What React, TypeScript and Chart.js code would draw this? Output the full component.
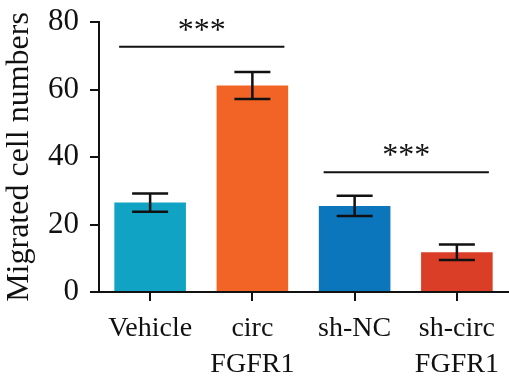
import React, { useEffect, useRef } from "react";
import { Chart, registerables } from "chart.js";

Chart.register(...registerables);

const categories: (string | string[])[] = ["Vehicle", ["circ", "FGFR1"], "sh-NC", ["sh-circ", "FGFR1"]];
const values = [26.5, 61.2, 25.5, 11.8];
const errors = [2.7, 4.0, 3.0, 2.3];
const barColors = ["#10A3C4", "#F26425", "#0B76BC", "#DA3E27"];
const yTicks = [0, 20, 40, 60, 80];
const sigPairs = [[0, 1], [2, 3]];
const sigLevels = [72.7, 35.5];
const sigLabels = ["***", "***"];

const FONT = "'Liberation Serif', 'DejaVu Serif', serif";

const errorBarPlugin = {
  id: "errorBars",
  afterDatasetsDraw(chart: any) {
    const { ctx, scales } = chart;
    const xs = scales.x, ys = scales.y;
    ctx.save();
    ctx.strokeStyle = "#111";
    ctx.lineWidth = 2.5;
    values.forEach((v, i) => {
      const x = xs.getPixelForValue(i);
      const yt = ys.getPixelForValue(v + errors[i]);
      const yb = ys.getPixelForValue(v - errors[i]);
      const hw = 18;
      ctx.beginPath();
      ctx.moveTo(x, yt); ctx.lineTo(x, yb);
      ctx.moveTo(x - hw, yt); ctx.lineTo(x + hw, yt);
      ctx.moveTo(x - hw, yb); ctx.lineTo(x + hw, yb);
      ctx.stroke();
    });
    sigPairs.forEach((p, k) => {
      const x1 = xs.getPixelForValue(p[0]) - 31;
      const x2 = xs.getPixelForValue(p[1]) + 32;
      const y = ys.getPixelForValue(sigLevels[k]);
      ctx.lineWidth = 2;
      ctx.beginPath();
      ctx.moveTo(x1, y); ctx.lineTo(x2, y);
      ctx.stroke();
      ctx.fillStyle = "#111";
      ctx.font = `32px ${FONT}`;
      ctx.textAlign = "center";
      ctx.textBaseline = "alphabetic";
      ctx.fillText(sigLabels[k], (x1 + x2) / 2, y - 7);
    });
    ctx.restore();
  },
};

export default function App() {
  const ref = useRef<HTMLCanvasElement>(null);
  useEffect(() => {
    document.body.style.margin = "0";
    const chart = new Chart(ref.current!, {
      type: "bar",
      data: {
        labels: categories,
        datasets: [
          {
            data: values,
            backgroundColor: barColors,
            borderWidth: 0,
            barPercentage: 0.7,
            categoryPercentage: 1,
          },
        ],
      },
      options: {
        animation: false,
        responsive: false,
        layout: { padding: { top: 22, right: 1, left: 0, bottom: 0 } },
        plugins: { legend: { display: false }, tooltip: { enabled: false } },
        scales: {
          x: {
            grid: { display: true, offset: false, drawOnChartArea: false, drawTicks: true, tickLength: 9, color: "#111", lineWidth: 2 },
            border: { display: true, color: "#111", width: 2 },
            ticks: { color: "#111", font: { family: FONT, size: 28, lineHeight: 1.3 }, padding: 9 },
            afterFit: (s: any) => { s.height = 91; s.paddingLeft = 0; s.paddingRight = 0; },
          },
          y: {
            min: 0,
            max: 80,
            afterBuildTicks: (s: any) => { s.ticks = yTicks.map((v) => ({ value: v })); },
            grid: { display: true, drawOnChartArea: false, drawTicks: true, tickLength: 9, color: "#111", lineWidth: 2 },
            border: { display: true, color: "#111", width: 2 },
            ticks: { color: "#111", font: { family: FONT, size: 31 }, padding: 11 },
            title: { display: true, text: "Migrated cell numbers", color: "#111", font: { family: FONT, size: 32 }, padding: { top: 0, bottom: 0 } },
            afterFit: (s: any) => { s.width = 99; s.paddingTop = 0; s.paddingBottom = 0; },
          },
        },
      },
      plugins: [errorBarPlugin],
    });
    return () => chart.destroy();
  }, []);
  return (
    <div style={{ position: "absolute", left: 0, top: 0, width: 509, height: 383 }}>
      <canvas ref={ref} width={509} height={383} />
    </div>
  );
}
